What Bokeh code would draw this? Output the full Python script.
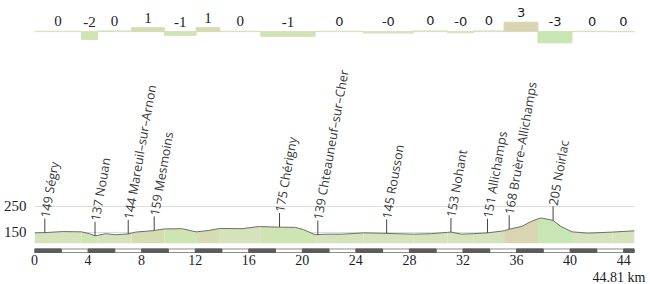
import numpy as np
from bokeh.plotting import figure
from bokeh.models import Range1d, FixedTicker, Title
from bokeh.core.properties import value
from bokeh.embed import file_html
from bokeh.resources import INLINE

# ---------------- data ----------------
total_km = 44.81

profile_km = [0, 0.77, 2.1, 3.5, 4.1, 4.52, 4.7, 5.3, 6.06, 7.0, 7.25, 7.55, 8.94, 9.7,
              11.0, 12.07, 13.0, 13.84, 15.5, 16.7, 16.9, 18.3, 19.5, 20.1, 20.96, 21.7,
              22.95, 24.57, 26.3, 28.29, 29.66, 30.85, 31.1, 31.9, 32.81, 33.83, 35.07,
              35.45, 36.4, 37.1, 37.6, 37.85, 38.73, 39.3, 40.14, 41.3, 43.15, 44.81]
profile_elev = [148, 149, 153, 152, 145, 137, 138, 145, 141, 144, 147, 151, 157, 163,
                164, 152, 157, 165, 164, 172, 172, 170, 169, 160, 141, 143,
                143, 148, 146, 143, 145, 150, 151, 143, 145, 148, 156,
                162, 173, 192, 202, 205, 196, 173, 152, 147, 151, 156]

seg_start = [0, 3.5, 4.7, 7.25, 9.7, 12.07, 13.84, 16.9, 20.96, 24.57, 28.29, 30.85,
             32.81, 35.07, 37.6, 40.14, 43.15]
seg_end = seg_start[1:] + [total_km]
grade = [0.1, -2.2, 0.2, 1.1, -1.0, 1.1, 0.1, -1.3, 0.1, -0.4, 0.2, -0.3, 0.2, 2.6,
         -3.1, 0.1, 0.0]
grade_labels = ["0", "-2", "0", "1", "-1", "1", "0", "-1", "0", "-0", "0", "-0", "0",
                "3", "-3", "0", "0"]

town_names = ["Ségry", "Nouan", "Mareuil–sur–Arnon", "Mesmoins", "Chérigny",
              "Chteauneuf–sur–Cher", "Rousson", "Nohant", "Allichamps",
              "Bruère–Allichamps", "Noirlac"]
town_km = [0.77, 4.52, 7.0, 8.94, 18.3, 21.16, 26.3, 31.1, 33.83, 35.45, 38.73]
town_elev = [149, 137, 144, 159, 175, 139, 145, 153, 151, 168, 205]

x_ticks = [0, 4, 8, 12, 16, 20, 24, 28, 32, 36, 40, 44]
y_ticks = [150, 250]

# ---------------- geometry / style ----------------
FRAME_H = 252
PX_PER_M = 0.26
Y0 = 69.0
BASE = 108.6
GRADE_BASE_PX = 31
PX_PER_PCT = 3.6
TICK_PX = 14


def grade_color(g):
    if g >= 2:
        return "#dad5b1"
    if g >= 0.5:
        return "#d6dcb2"
    if g > -0.5:
        return "#d6e2bb"
    if g > -2.5:
        return "#cfe4b3"
    return "#c8e6b3"


colors = [grade_color(g) for g in grade]

p = figure(width=650, height=284, output_backend="svg", toolbar_location=None,
           x_range=Range1d(0, total_km), y_range=Range1d(Y0, Y0 + FRAME_H / PX_PER_M),
           min_border_left=32, min_border_right=16, min_border_top=0,
           min_border_bottom=0)
p.outline_line_color = None
p.background_fill_color = "white"
p.border_fill_color = "white"
p.extra_y_ranges = {
    "grade": Range1d(-(FRAME_H - GRADE_BASE_PX) / PX_PER_PCT, GRADE_BASE_PX / PX_PER_PCT),
    "px": Range1d(FRAME_H, 0),
}

# axes
for ax in (p.xaxis, p.yaxis):
    ax.axis_line_color = None
    ax.major_tick_line_color = None
    ax.minor_tick_line_color = None
    ax.major_tick_out = 0
    ax.minor_tick_out = 0
    ax.major_tick_in = 0
    ax.minor_tick_in = 0
    ax.major_label_text_font = "Liberation Serif"
    ax.major_label_text_color = "#1c1c2a"
p.yaxis.major_label_text_font_size = "15px"
p.xaxis.major_label_text_font_size = "14px"
p.xaxis.ticker = FixedTicker(ticks=x_ticks)
p.xaxis.major_label_text_align = "left"
p.xaxis.major_label_standoff = 1
p.yaxis.ticker = FixedTicker(ticks=y_ticks)
p.yaxis.major_label_standoff = 8
p.xgrid.visible = False
p.ygrid.grid_line_color = "#dcdcdc"

# total distance caption under the axis
p.add_layout(Title(text=f"{total_km} km", align="right", offset=-11, standoff=0,
                   text_font="Liberation Serif", text_font_size="14px",
                   text_font_style="normal", text_color="#1c1c2a"), "below")

# profile fill per gradient segment
km_a = np.array(profile_km)
el_a = np.array(profile_elev)
for s, e, c in zip(seg_start, seg_end, colors):
    m = (km_a >= s - 1e-9) & (km_a <= e + 1e-9)
    p.varea(x=km_a[m], y1=BASE, y2=el_a[m], fill_color=c)
p.line(profile_km, profile_elev, line_color="#6e6e6e", line_width=1)

# gradient bars
p.quad(left=seg_start, right=seg_end, bottom=0, top=grade, y_range_name="grade",
       fill_color=colors, line_color=colors, line_width=1)
mid = [(s + e) / 2 for s, e in zip(seg_start, seg_end)]
lab_y = [max(g, 0) for g in grade]
p.text(x=mid[:8], y=lab_y[:8], text=grade_labels[:8], y_range_name="grade",
       text_align="center", text_baseline="middle", y_offset=-10,
       text_font=value("Liberation Serif"), text_font_size="15px", text_color="#222222")
p.text(x=mid[8:], y=lab_y[8:], text=grade_labels[8:], y_range_name="grade",
       text_align="center", text_baseline="middle", y_offset=-10,
       text_font=value("DejaVu Sans"), text_font_size="13px", text_color="#222222")

# town ticks and labels
tick_base = np.interp(town_km, profile_km, profile_elev)
p.segment(x0=town_km, y0=tick_base, x1=town_km, y1=tick_base + TICK_PX / PX_PER_M,
          line_color="#444444", line_width=1)
town_text = [f"{e} {n}" for e, n in zip(town_elev, town_names)]
p.text(x=town_km, y=tick_base + TICK_PX / PX_PER_M, text=town_text,
       angle=np.deg2rad(80), text_align="left", text_baseline="middle", y_offset=-1,
       text_font=value("Open Sans"), text_font_size="12.5px", text_color="#383838")

# distance scale bar
p.quad(left=[0], right=[total_km], top=[247.5], bottom=[251], y_range_name="px",
       fill_color="white", line_color="#8c8c8c", line_width=1)
dark_left = np.arange(0, total_km, 4)
dark_right = np.minimum(dark_left + 2, total_km)
p.quad(left=dark_left, right=dark_right, top=247.5, bottom=251, y_range_name="px",
       fill_color="#5c5c5c", line_color="#5c5c5c", line_width=1)

open("out.html", "w").write(file_html(p, INLINE))
